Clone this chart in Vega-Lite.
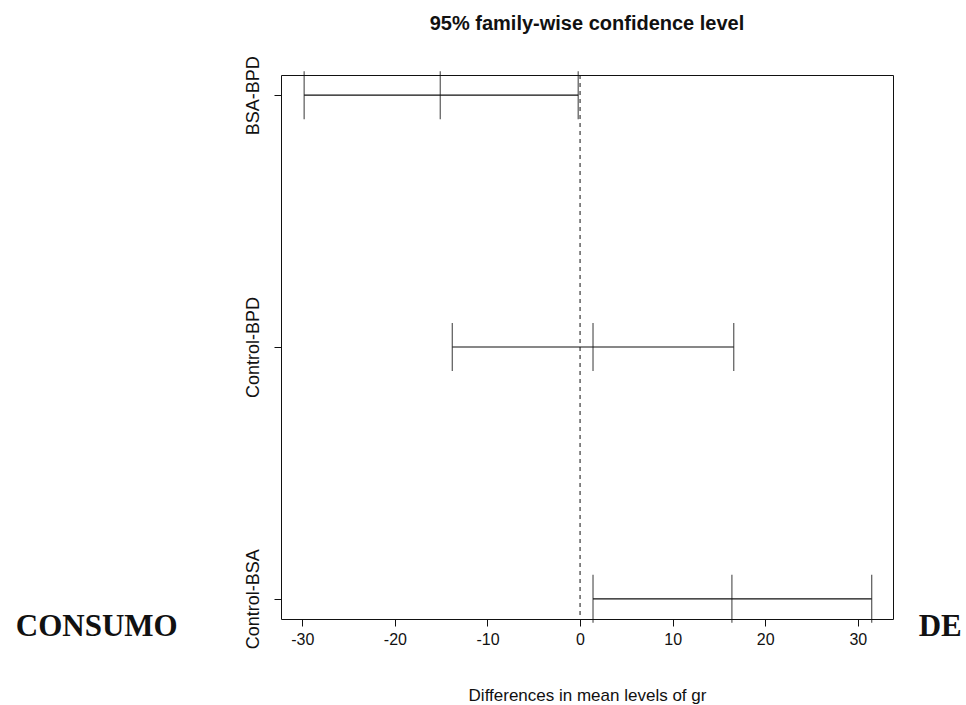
{
  "$schema": "https://vega.github.io/schema/vega-lite/v6.json",
  "autosize": {"type": "none"},
  "width": 612,
  "height": 544,
  "padding": {"left": 281, "top": 75, "right": 73, "bottom": 86},
  "background": "white",
  "config": {
    "view": {"stroke": "#111", "strokeWidth": 1},
    "font": "Liberation Sans",
    "axis": {"grid": false, "domain": false, "tickColor": "#111", "labelColor": "#111", "titleColor": "#111", "labelFont": "Liberation Sans", "titleFont": "Liberation Sans"}
  },
  "title": {"text": "95% family-wise confidence level", "fontSize": 20, "fontWeight": "bold", "font": "Liberation Sans", "color": "#111", "offset": 22, "anchor": "middle"},
  "datasets": {
    "ci": [
      {"comparison": "BSA-BPD", "level": 3, "lwr": -29.8, "diff": -15.1, "upr": -0.2},
      {"comparison": "Control-BPD", "level": 2, "lwr": -13.8, "diff": 1.4, "upr": 16.6},
      {"comparison": "Control-BSA", "level": 1, "lwr": 1.4, "diff": 16.4, "upr": 31.5}
    ],
    "notes": [
      {"label": "CONSUMO", "x": -52.2, "y": 0.89},
      {"label": "DE", "x": 38.9, "y": 0.89}
    ],
    "zero": [{"x": 0}]
  },
  "layer": [
    {
      "data": {"name": "ci"},
      "mark": {"type": "rule", "color": "#111", "strokeWidth": 1.2},
      "encoding": {
        "x": {"field": "lwr", "type": "quantitative", "scale": {"domain": [-32.3, 33.8], "nice": false, "zero": false},
              "axis": {"values": [-30, -20, -10, 0, 10, 20, 30], "labelExpr": "datum.value + ''", "tickSize": 7, "labelFontSize": 16, "labelPadding": 5, "title": "Differences in mean levels of gr", "titleFontSize": 17, "titleFontWeight": "normal", "titlePadding": 40}},
        "x2": {"field": "upr"},
        "y": {"field": "level", "type": "quantitative", "scale": {"domain": [0.92, 3.08], "nice": false, "zero": false},
              "axis": {"values": [1, 2, 3], "labelExpr": "datum.value == 3 ? 'BSA-BPD' : datum.value == 2 ? 'Control-BPD' : 'Control-BSA'", "labelAngle": -90, "labelAlign": "center", "labelBaseline": "bottom", "tickSize": 7, "labelFontSize": 18, "labelPadding": 12, "title": null}}
      }
    },
    {
      "data": {"name": "ci"},
      "transform": [{"fold": ["lwr", "diff", "upr"], "as": ["stat", "value"]}],
      "mark": {"type": "tick", "color": "#111", "size": 48, "thickness": 1.2, "orient": "vertical"},
      "encoding": {
        "x": {"field": "value", "type": "quantitative"},
        "y": {"field": "level", "type": "quantitative"}
      }
    },
    {
      "data": {"name": "zero"},
      "mark": {"type": "rule", "color": "#111", "strokeDash": [4, 4], "strokeWidth": 1},
      "encoding": {"x": {"field": "x", "type": "quantitative"}}
    },
    {
      "data": {"name": "notes"},
      "mark": {"type": "text", "font": "Liberation Serif", "fontWeight": "bold", "fontSize": 31, "color": "#111", "align": "center", "baseline": "middle"},
      "encoding": {
        "x": {"field": "x", "type": "quantitative"},
        "y": {"field": "y", "type": "quantitative"},
        "text": {"field": "label"}
      }
    }
  ]
}
